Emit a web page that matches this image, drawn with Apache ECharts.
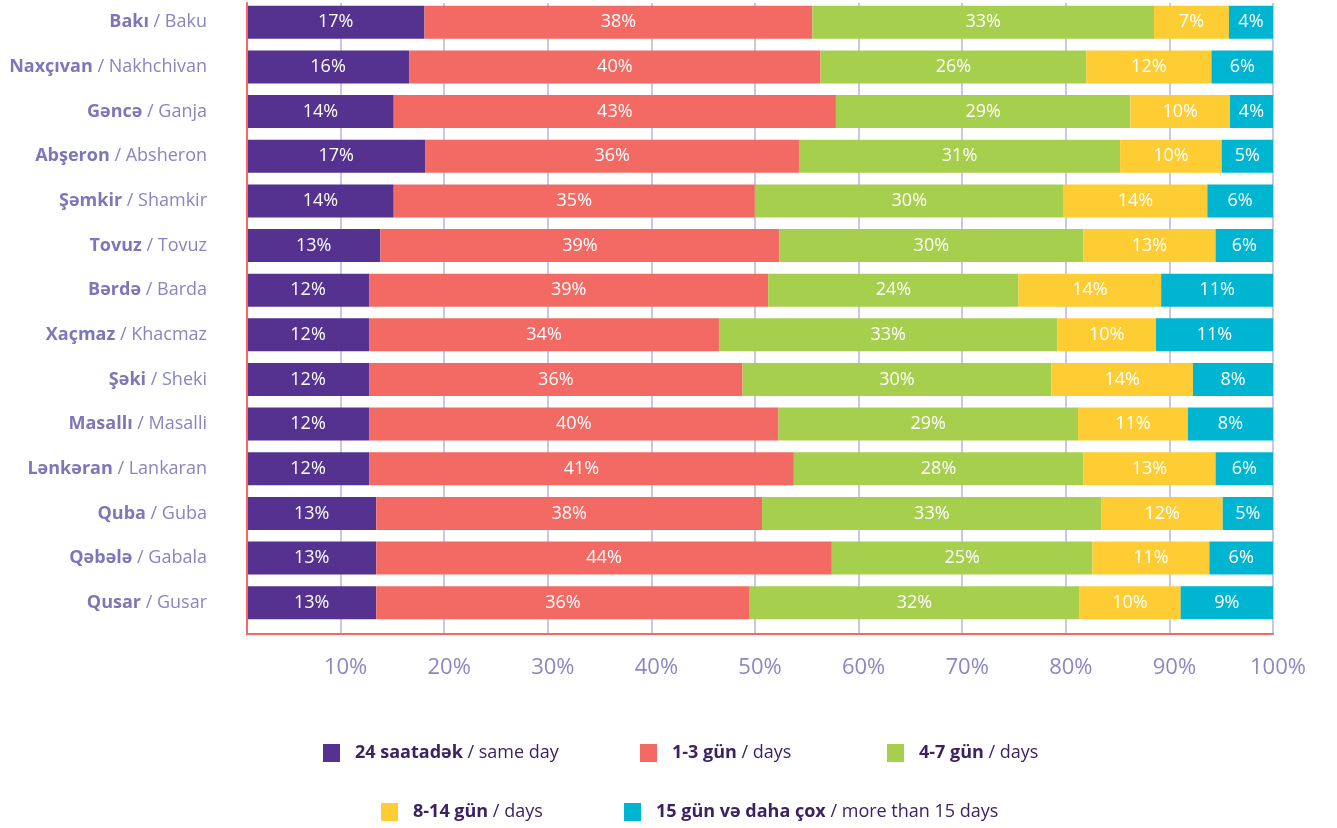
<!DOCTYPE html>
<html>
<head>
<meta charset="utf-8">
<script src="https://cdn.jsdelivr.net/npm/echarts@6/dist/echarts.min.js"></script>
<style>
html, body { margin: 0; padding: 0; background: #fff; }
#main { width: 1337px; height: 828px; }
</style>
</head>
<body>
<div id="main"></div>
<script>
const regionsAz = ['Bakı', 'Naxçıvan', 'Gəncə', 'Abşeron', 'Şəmkir', 'Tovuz', 'Bərdə', 'Xaçmaz', 'Şəki', 'Masallı', 'Lənkəran', 'Quba', 'Qəbələ', 'Qusar']
const regionsEn = ['Baku', 'Nakhchivan', 'Ganja', 'Absheron', 'Shamkir', 'Tovuz', 'Barda', 'Khacmaz', 'Sheki', 'Masalli', 'Lankaran', 'Guba', 'Gabala', 'Gusar']

const seriesNames = ['24 saatadək / same day', '1-3 gün / days', '4-7 gün / days', '8-14 gün / days', '15 gün və daha çox / more than 15 days']
const colors = ['#553290', '#f26a63', '#a7cf4e', '#fecd34', '#00b5d1']

// shares in %, top row first
const sameDay = [17.3, 15.8, 14.3, 17.4, 14.3, 13.0, 11.9, 11.9, 11.9, 11.9, 11.9, 12.6, 12.6, 12.6]
const days1to3 = [37.8, 40.1, 43.1, 36.4, 35.2, 38.9, 38.9, 34.1, 36.4, 39.9, 41.4, 37.6, 44.4, 36.4]
const days4to7 = [33.3, 25.9, 28.7, 31.3, 30.1, 29.6, 24.4, 33.0, 30.1, 29.2, 28.2, 33.1, 25.4, 32.1]
const days8to14 = [7.3, 12.2, 9.7, 9.9, 14.0, 12.9, 13.9, 9.6, 13.8, 10.7, 12.9, 11.8, 11.4, 9.9]
const days15plus = [4.3, 6.0, 4.2, 5.0, 6.4, 5.6, 10.9, 11.4, 7.8, 8.3, 5.6, 4.9, 6.2, 9.0]

const xTicks = [0, 10, 20, 30, 40, 50, 60, 70, 80, 90, 100]

const allData = [sameDay, days1to3, days4to7, days8to14, days15plus]
const categories = regionsAz.map((az, i) => az + ' / ' + regionsEn[i])

const FONT = 'Open Sans'
const legendPos = [
  { left: 318, top: 739 },
  { left: 635, top: 739 },
  { left: 882, top: 739 },
  { left: 376, top: 798 },
  { left: 619, top: 798 },
]

var chartDom = document.getElementById('main')
var myChart = echarts.init(chartDom)

var option = {
  animation: false,
  grid: [
    { left: 237, width: 1036, top: 3, height: 631 },
    { left: 247, width: 1026, top: -3, height: 628 },
    { left: 247, width: 1026, top: 3, height: 631 },
  ],
  legend: seriesNames.map((name, i) => ({
    data: [name],
    left: legendPos[i].left,
    top: legendPos[i].top,
    icon: 'rect',
    itemWidth: 17,
    itemHeight: 18,
    selectedMode: false,
    formatter: (n) => {
      const parts = n.split(' / ')
      return '{b|' + parts[0] + '}{r| / ' + parts[1] + '}'
    },
    textStyle: {
      rich: {
        b: { fontFamily: FONT, fontWeight: 'bold', fontSize: 18, color: '#3b2262', padding: [0, 0, 0, 10] },
        r: { fontFamily: FONT, fontSize: 18, color: '#3b2262' },
      },
    },
  })),
  xAxis: [
    {
      gridIndex: 0,
      type: 'value',
      min: xTicks[0],
      max: xTicks[xTicks.length - 1],
      interval: 10,
      axisLine: { show: false },
      axisTick: { show: false },
      splitLine: { show: true, showMinLine: false, lineStyle: { color: '#cbc6e3', width: 2 } },
      axisLabel: {
        formatter: (v) => (v === 0 ? '' : v + '%'),
        color: '#8c86c5',
        fontFamily: FONT,
        fontSize: 22,
        margin: 23,
        padding: [0, 0, 0, 10],
      },
    },
    { gridIndex: 1, type: 'value', min: 0, max: 100, show: false },
    {
      gridIndex: 2,
      type: 'value',
      min: 0,
      max: 100,
      z: 5,
      axisLine: { show: true, onZero: false, lineStyle: { color: '#f26a63', width: 2 } },
      axisTick: { show: false },
      axisLabel: { show: false },
      splitLine: { show: false },
    },
  ],
  yAxis: [
    { gridIndex: 0, type: 'value', show: false, splitLine: { show: false } },
    {
      gridIndex: 1,
      type: 'category',
      data: categories,
      inverse: true,
      axisLine: { show: false },
      axisTick: { show: false },
      axisLabel: {
        margin: 40,
        formatter: (v) => {
          const parts = v.split(' / ')
          return '{b|' + parts[0] + '}{n| / ' + parts[1] + '}'
        },
        rich: {
          b: { fontFamily: FONT, fontWeight: 'bold', fontSize: 18, color: '#7d76b9' },
          n: { fontFamily: FONT, fontSize: 18, color: '#8a84c1' },
        },
      },
    },
    {
      gridIndex: 2,
      type: 'value',
      z: 5,
      axisLine: { show: true, onZero: false, lineStyle: { color: '#f26a63', width: 2 } },
      axisTick: { show: false },
      axisLabel: { show: false },
      splitLine: { show: false },
    },
  ],
  series: seriesNames.map((name, i) => ({
    name: name,
    type: 'bar',
    stack: 'total',
    xAxisIndex: 1,
    yAxisIndex: 1,
    barWidth: 33,
    itemStyle: { color: colors[i] },
    label: {
      show: true,
      position: 'inside',
      color: '#fff',
      fontFamily: FONT,
      fontSize: 18,
      formatter: (p) => Math.round(p.value) + '%',
    },
    data: allData[i],
  })),
}

option && myChart.setOption(option)
</script>
</body>
</html>
